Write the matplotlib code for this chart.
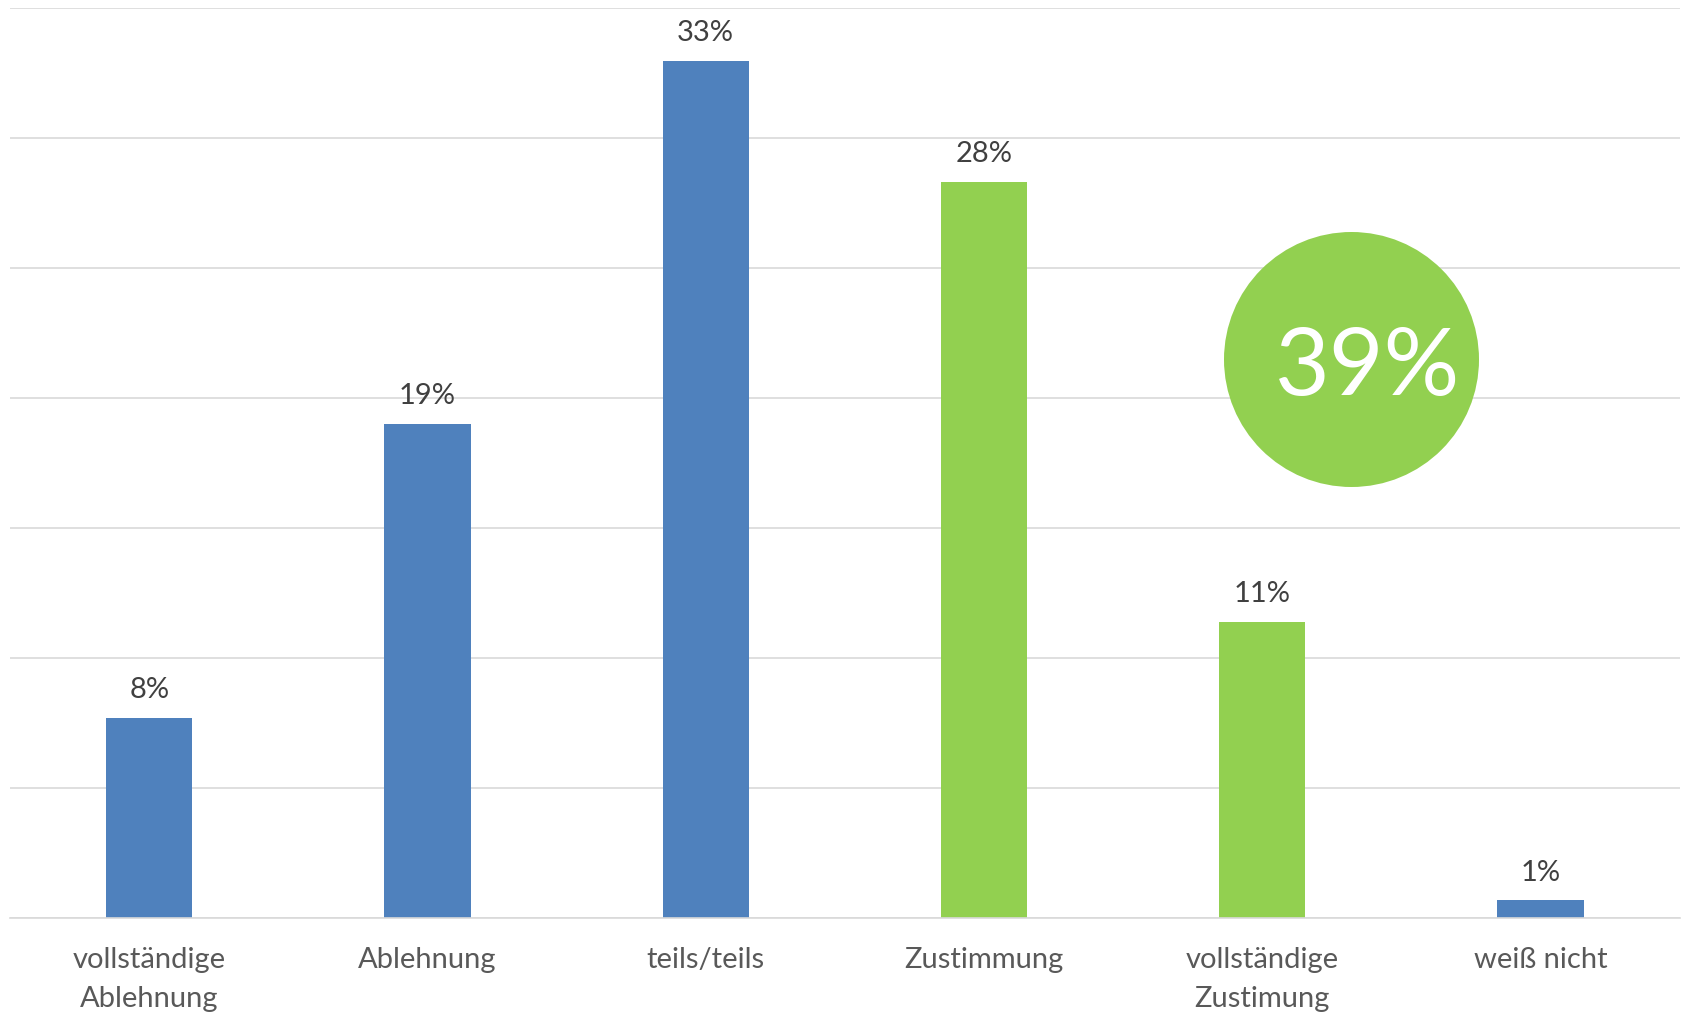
import numpy as np
import matplotlib
matplotlib.use('Agg')
from matplotlib import pyplot as plt

categories = ['vollständige\nAblehnung', 'Ablehnung', 'teils/teils', 'Zustimmung',
              'vollständige\nZustimung', 'weiß nicht']
values = [7.7, 19.0, 32.95, 28.3, 11.4, 0.68]
labels = ['8%', '19%', '33%', '28%', '11%', '1%']
colors = ['#4F81BD', '#4F81BD', '#4F81BD', '#92D050', '#92D050', '#4F81BD']
green_idx = [3, 4]

plt.rcParams['font.family'] = ['Lato', 'DejaVu Sans']

fig = plt.figure(figsize=(16.83, 10.14), dpi=100)
ax = fig.add_axes([0.006, 0.0945, 0.992, 0.898])

x = np.arange(len(categories))
ax.bar(x, values, width=0.31, color=colors, zorder=2)
for xi, v, l in zip(x, values, labels):
    ax.annotate(l, (xi, v), xytext=(0, 14), textcoords='offset points',
                ha='center', va='baseline', fontsize=21, color='#404040')

ax.set_xlim(-0.5, 5.5)
ax.set_ylim(0, 35)
ax.set_yticks(np.arange(0, 36, 5))
ax.yaxis.grid(True, color='#D9D9D9', linewidth=1.2)
ax.set_axisbelow(True)
ax.tick_params(axis='y', left=False, labelleft=False)
ax.tick_params(axis='x', bottom=False, pad=17, labelsize=21, labelcolor='#595959')
ax.set_xticks(x)
ax.set_xticklabels(categories, linespacing=1.62)
for s in ['left', 'right', 'top']:
    ax.spines[s].set_visible(False)
ax.spines['bottom'].set_color('#D9D9D9')
ax.spines['bottom'].set_linewidth(1.2)

# circle with the green total (sum of the rounded shares)
total = sum(int(round(values[i])) for i in green_idx)
cx, cy = 4.32, 21.5
ax.scatter([cx], [cy], s=183.6 ** 2, color='#92D050', zorder=4, linewidths=0)
ax.annotate(f'{total}%', (cx, cy), xytext=(11.5, -26.3), textcoords='offset points',
            ha='center', va='baseline', fontsize=68, color='white', zorder=5)

fig.savefig('out.png', dpi=100)
